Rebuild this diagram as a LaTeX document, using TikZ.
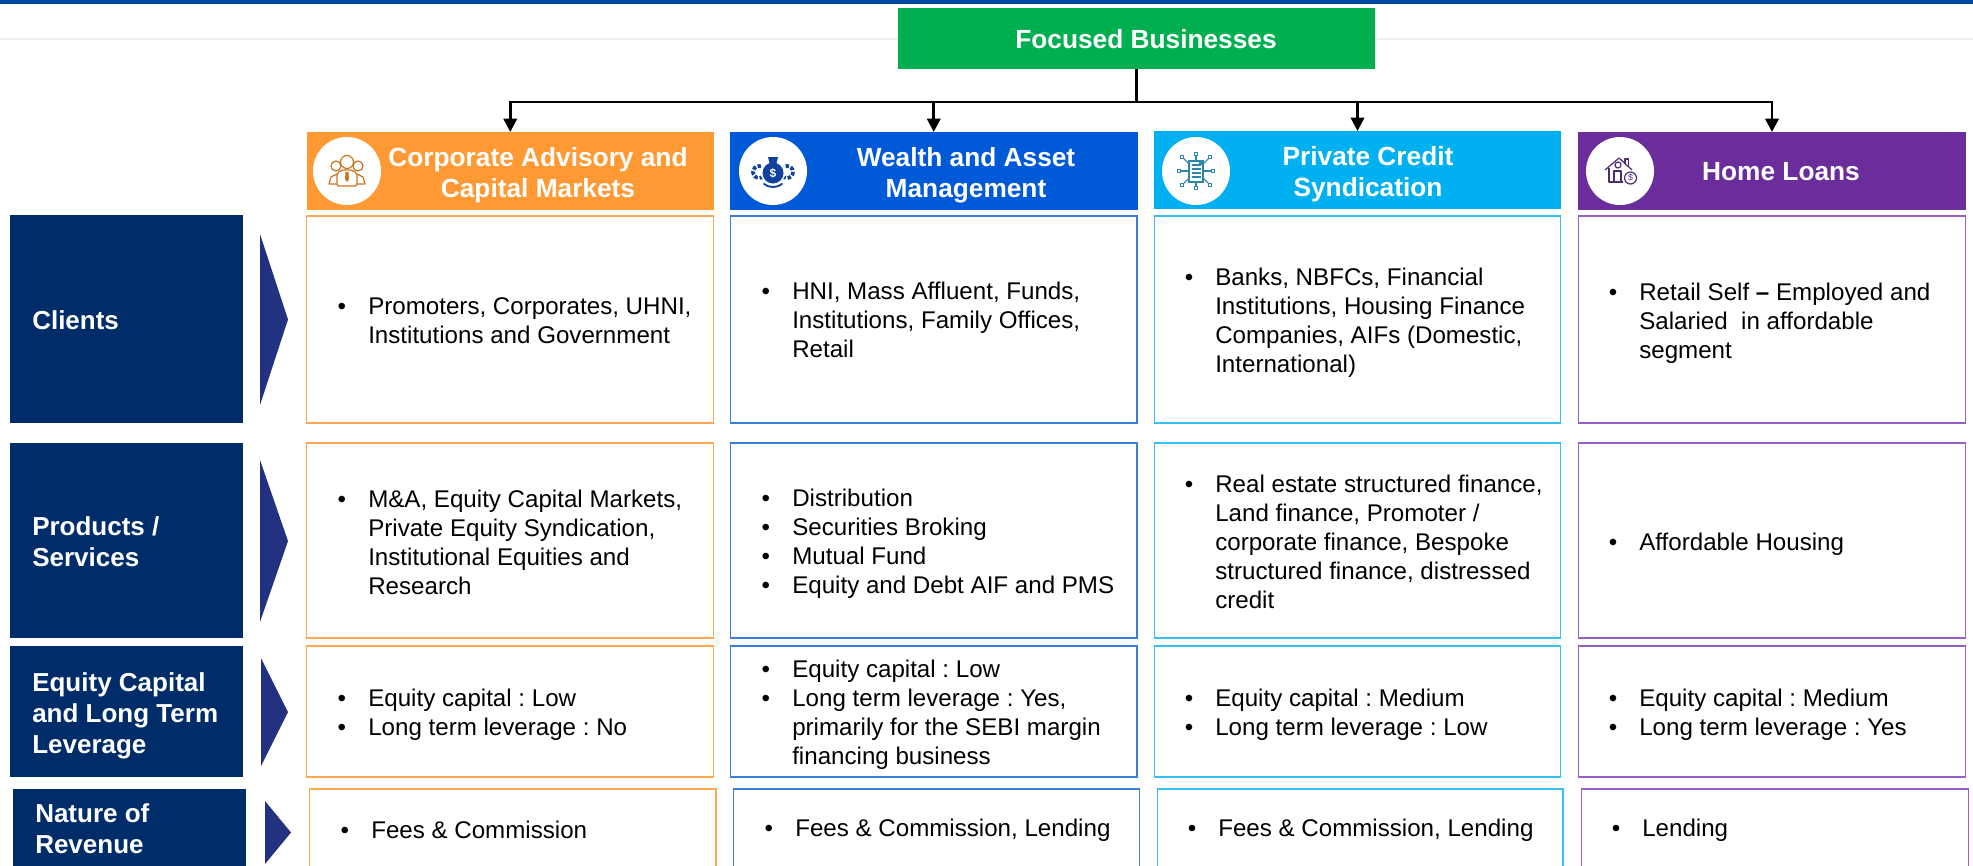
\documentclass[tikz,border=0pt]{standalone}
\usepackage{fontspec}
\setmainfont{Liberation Sans}
\usetikzlibrary{arrows.meta}
\frenchspacing
\definecolor{cOrange}{HTML}{FF9933}
\definecolor{cBlue}{HTML}{0059D6}
\definecolor{cBlueL}{HTML}{3B7DDD}
\definecolor{cCyan}{HTML}{00B0F0}
\definecolor{cPurple}{HTML}{6B2D9B}
\definecolor{cPurpleL}{HTML}{9A5FC4}
\definecolor{cGreen}{HTML}{00B050}
\definecolor{cNavy}{HTML}{002D6A}
\definecolor{cTri}{HTML}{233181}
\definecolor{cBar}{HTML}{0047A3}
\definecolor{cRule}{HTML}{F0F0F0}
\definecolor{iOrange}{HTML}{C8761E}
\definecolor{iBlue}{HTML}{12409F}
\definecolor{iTeal}{HTML}{2E86A8}
\definecolor{iPurple}{HTML}{4B2C73}
\tikzset{
  x=0.75pt,y=-0.75pt,
  bx/.style={inner sep=0pt,outer sep=0pt,anchor=center},
  bodybox/.style={bx,draw=#1,line width=0.85pt,fill=white},
  head/.style={bx,fill=#1},
  labelbox/.style={bx,fill=cNavy},
  headtext/.style={text=white,inner sep=0pt,align=center,font=\fontsize{19.7}{23.25}\selectfont\bfseries},
  sidetext/.style={text=white,inner sep=0pt,align=left,anchor=west,font=\fontsize{19.5}{23.25}\selectfont\bfseries},
  bodytext/.style={text=black,inner sep=0pt,align=left,anchor=west,font=\fontsize{18.1}{21.75}\selectfont},
  conn/.style={draw=black,line width=1.9pt,-{Triangle[length=10pt,width=10pt]}},
  trunk/.style={draw=black,line width=1.9pt},
  badge/.style={fill=white,draw=none},
}
% name, style, x0, y0, x1, y1
\newcommand{\rbox}[6]{\node[#2,minimum width={(#5-#3)*0.75pt},minimum height={(#6-#4)*0.75pt}] (#1) at ({(#3+#5)/2},{(#4+#6)/2}) {};}
\newcommand{\bt}{\llap{\makebox[22.9pt][l]{•}}}
\begin{document}
\begin{tikzpicture}
\clip (0,0) rectangle (1973,865);
\fill[white] (0,0) rectangle (1973,865);
\fill[cBar] (0,0) rectangle (1973,3.5);
\fill[cRule] (0,37.5) rectangle (1973,39.5);

% top box
\rbox{top}{head=cGreen}{898}{8}{1375}{69}
\node[headtext] (toptext) at (1146,39) {Focused Businesses};

% headers
\rbox{hA}{head=cOrange}{306.5}{132}{714}{210}
\rbox{hB}{head=cBlue}{730}{132}{1137.5}{210}
\rbox{hC}{head=cCyan}{1154}{131}{1561}{209}
\rbox{hD}{head=cPurple}{1578}{132}{1966}{210}
\node[headtext] (tA) at (538,175) {Corporate Advisory and\\Capital Markets};
\node[headtext] (tB) at (966,175) {Wealth and Asset\\Management};
\node[headtext] (tC) at (1368,174) {Private Credit\\Syndication};
\node[headtext] (tD) at (1781,172) {Home Loans};

% connectors
\coordinate (bus) at (1136.5,102);
\draw[trunk] (top.south) -- (bus);
\draw[conn] (bus) -| (hA.north);
\draw[conn] (bus) -| (hB.north);
\draw[conn] (bus) -| (hC.north);
\draw[conn] (bus) -| (hD.north);

% left labels
\rbox{l1}{labelbox}{10}{215}{243}{423}
\rbox{l2}{labelbox}{10}{443}{243}{638}
\rbox{l3}{labelbox}{10}{646}{243}{777}
\rbox{l4}{labelbox}{13}{789}{246}{900}
\node[sidetext] (s1) at (32,320) {Clients};
\node[sidetext] (s2) at (32,542) {Products /\\Services};
\node[sidetext] (s3) at (32,715.5) {Equity Capital\\and Long Term\\Leverage};
\node[sidetext] (s4) at (35,829) {Nature of\\Revenue};

% triangles
\fill[cTri] (260,234) -- (288,319.5) -- (260,405) -- cycle;
\fill[cTri] (260,460) -- (288,541) -- (260,622) -- cycle;
\fill[cTri] (261,658) -- (288,712) -- (261,766) -- cycle;
\fill[cTri] (265,801) -- (291,832.5) -- (265,864) -- cycle;

% row 1 boxes
\rbox{a1}{bodybox=cOrange!85}{306.5}{216}{713.5}{423}
\rbox{b1}{bodybox=cBlueL}{730.5}{216}{1137}{423}
\rbox{c1}{bodybox=cCyan!80}{1154.5}{216}{1560.5}{423}
\rbox{d1}{bodybox=cPurpleL}{1578.5}{216}{1965.5}{423}
% row 2
\rbox{a2}{bodybox=cOrange!85}{306.5}{443}{713.5}{638}
\rbox{b2}{bodybox=cBlueL}{730.5}{443}{1137}{638}
\rbox{c2}{bodybox=cCyan!80}{1154.5}{443}{1560.5}{638}
\rbox{d2}{bodybox=cPurpleL}{1578.5}{443}{1965.5}{638}
% row 3
\rbox{a3}{bodybox=cOrange!85}{306.5}{646}{713.5}{777}
\rbox{b3}{bodybox=cBlueL}{730.5}{646}{1137}{777}
\rbox{c3}{bodybox=cCyan!80}{1154.5}{646}{1560.5}{777}
\rbox{d3}{bodybox=cPurpleL}{1578.5}{646}{1965.5}{777}
% row 4
\rbox{a4}{bodybox=cOrange!85}{309.5}{789}{716}{900}
\rbox{b4}{bodybox=cBlueL}{733.5}{789}{1139.5}{900}
\rbox{c4}{bodybox=cCyan!80}{1157.5}{789}{1563}{900}
\rbox{d4}{bodybox=cPurpleL}{1581.5}{789}{1968.5}{900}

% row 1 text
\node[bodytext] (ta1) at (368,321) {\bt Promoters, Corporates, UHNI,\\Institutions and Government};
\node[bodytext] (tb1) at (792,320) {\bt HNI, Mass Affluent, Funds,\\Institutions, Family Offices,\\Retail};
\node[bodytext] (tc1) at (1215,323) {\bt Banks, NBFCs, Financial\\Institutions, Housing Finance\\Companies, AIFs (Domestic,\\International)};
\node[bodytext] (td1) at (1639,323) {\bt Retail Self {\bfseries –} Employed and\\Salaried\ \ in affordable\\segment};
% row 2 text
\node[bodytext] (ta2) at (368,542) {\bt M\&A, Equity Capital Markets,\\Private Equity Syndication,\\Institutional Equities and\\Research};
\node[bodytext] (tb2) at (792,544) {\bt Distribution\\\bt Securities Broking\\\bt Mutual Fund\\\bt Equity and Debt AIF and PMS};
\node[bodytext] (tc2) at (1215,542) {\bt Real estate structured finance,\\Land finance, Promoter /\\corporate finance, Bespoke\\structured finance, distressed\\credit};
\node[bodytext] (td2) at (1639,544) {\bt Affordable Housing};
% row 3 text
\node[bodytext] (ta3) at (368,715) {\bt Equity capital : Low\\\bt Long term leverage : No};
\node[bodytext] (tb3) at (792,715) {\bt Equity capital : Low\\\bt Long term leverage : Yes,\\primarily for the SEBI margin\\financing business};
\node[bodytext] (tc3) at (1215,715) {\bt Equity capital : Medium\\\bt Long term leverage : Low};
\node[bodytext] (td3) at (1639,715) {\bt Equity capital : Medium\\\bt Long term leverage : Yes};
% row 4 text
\node[bodytext] (ta4) at (371,829.5) {\bt Fees \& Commission};
\node[bodytext] (tb4) at (795,830.5) {\bt Fees \& Commission, Lending};
\node[bodytext] (tc4) at (1218,830.5) {\bt Fees \& Commission, Lending};
\node[bodytext] (td4) at (1642,830.5) {\bt Lending};

% icon: people
\begin{scope}[shift={(347,171)}]
\fill[badge] (0,0) circle (34);
\begin{scope}[draw=iOrange,line width=0.9pt,line join=round]
\draw (-11,-5) circle (5);
\draw (11,-5) circle (5);
\draw (-10,3) -- (-16,6) -- (-18,13) -- (-10,13);
\draw (10,3) -- (16,6) -- (18,13) -- (10,13);
\draw[fill=white] (0,-9) circle (6.5);
\draw[fill=white,rounded corners=1.5pt] (-10,2) -- (-10,15) -- (10,15) -- (10,2) -- (5,-1) -- (-5,-1) -- cycle;
\fill[iOrange] (-1.5,1) -- (1.5,1) -- (2,8) -- (0,11) -- (-2,8) -- cycle;
\end{scope}
\end{scope}

% icon: money bag
\begin{scope}[shift={(773,171)}]
\fill[badge] (0,0) circle (34);
\draw[iBlue,line width=2.8pt,dash pattern=on 2.6pt off 1.4pt] (-14,1) circle (6);
\draw[iBlue,line width=2.8pt,dash pattern=on 2.6pt off 1.4pt] (14,1) circle (6);
\fill[white] (0,1) circle (12.5);
\fill[iBlue] (0,2) circle (10.5);
\fill[iBlue] (-3.5,-8) -- (3.5,-8) -- (5,-14) -- (-5,-14) -- cycle;
\draw[iBlue,line width=1.4pt,line cap=round] (-9,13) .. controls (-4,17) and (4,17) .. (9,13);
\node[text=white,inner sep=0pt,font=\fontsize{9}{9}\selectfont\bfseries] (dollarb) at (0,2) {\$};
\end{scope}

% icon: document network
\begin{scope}[shift={(1196,171)}]
\fill[badge] (0,0) circle (34);
\begin{scope}[draw=iTeal,line width=0.8pt]
\foreach \a/\b in {-17/0,17/0,0/-17,0/17,-14/-14,14/-14,-14/14,14/14}{
  \draw (0,0) -- (\a,\b);
  \draw[fill=white] (\a-1.8,\b-1.8) rectangle (\a+1.8,\b+1.8);
}
\draw[fill=white] (-7,-10) rectangle (7,11);
\foreach \v in {-6,-2,2,6}{\draw[line width=1pt] (-4.5,\v) -- (4.5,\v);}
\fill[iTeal] (3,-10) rectangle (7,-6);
\end{scope}
\end{scope}

% icon: house
\begin{scope}[shift={(1620,171)}]
\fill[badge] (0,0) circle (34);
\begin{scope}[draw=iPurple,line width=0.9pt,line join=round]
\draw (-15,-1) -- (-1,-13) -- (12,-1);
\draw (5,-7) -- (5,-12) -- (8.5,-12) -- (8.5,-4);
\draw (-11,-3) -- (-11,11) -- (3,11);
\draw (-6,11) -- (-6,0) -- (1,0) -- (1,11);
\draw (-2,-6) circle (3);
\draw[fill=white] (10.5,7) circle (6);
\node[text=iPurple,inner sep=0pt,font=\fontsize{6.5}{7}\selectfont] (dollarh) at (10.5,7) {\$};
\end{scope}
\end{scope}
\end{tikzpicture}
\end{document}
